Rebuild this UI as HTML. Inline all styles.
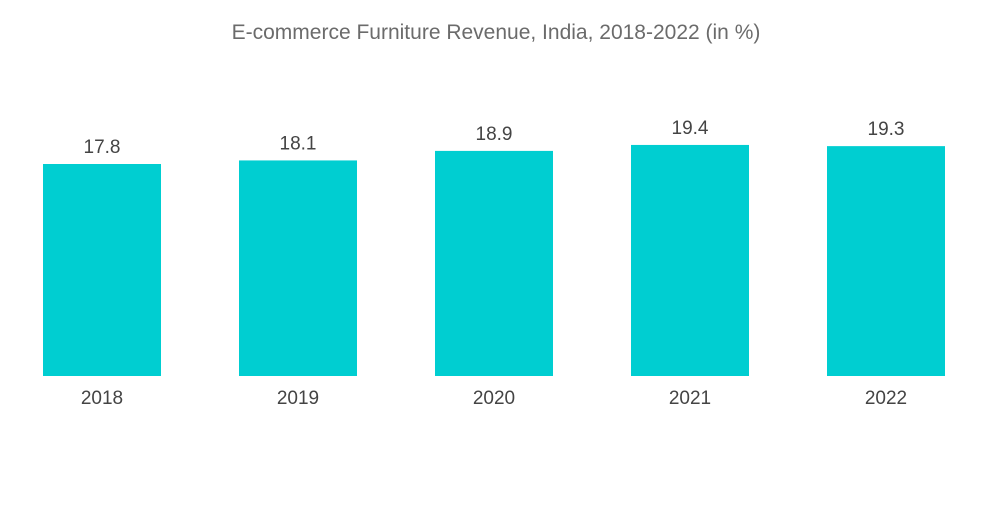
<!DOCTYPE html>
<html><head><meta charset="utf-8"><style>
body{margin:0;background:#fff;width:1000px;height:504px;overflow:hidden;font-family:"Liberation Sans",sans-serif}
</style></head><body>
<svg id="chart" width="1000" height="504">
<text x="496" y="39" text-anchor="middle" font-size="21" fill="#6b6b6b">E-commerce Furniture Revenue, India, 2018-2022 (in %)</text>
</svg>
<script>
const categories=["2018","2019","2020","2021","2022"];
const values=[17.8,18.1,18.9,19.4,19.3];
const svg=document.getElementById('chart');
const ns="http://www.w3.org/2000/svg";
const baseY=376, pxPerUnit=11.91, firstX=43, step=196, barW=118;
function yScale(v){return baseY-v*pxPerUnit;}
function xScale(i){return firstX+i*step;}
categories.forEach((c,i)=>{
  const r=document.createElementNS(ns,'rect');
  
  
  r.setAttribute('x',xScale(i));r.setAttribute('y',yScale(values[i]));
  r.setAttribute('width',barW);r.setAttribute('height',baseY-yScale(values[i]));
  r.setAttribute('fill','#00CED1');svg.appendChild(r);
  const t=document.createElementNS(ns,'text');
  
  
  t.setAttribute('x',xScale(i)+barW/2);t.setAttribute('y',yScale(values[i])-11);
  t.setAttribute('text-anchor','middle');t.setAttribute('font-size','19');t.setAttribute('fill','#444');
  t.textContent=values[i];svg.appendChild(t);
  const l=document.createElementNS(ns,'text');
  
  
  l.setAttribute('x',xScale(i)+barW/2);l.setAttribute('y',404);
  l.setAttribute('text-anchor','middle');l.setAttribute('font-size','19');l.setAttribute('fill','#444');
  l.textContent=c;svg.appendChild(l);
});
</script>
</body></html>
